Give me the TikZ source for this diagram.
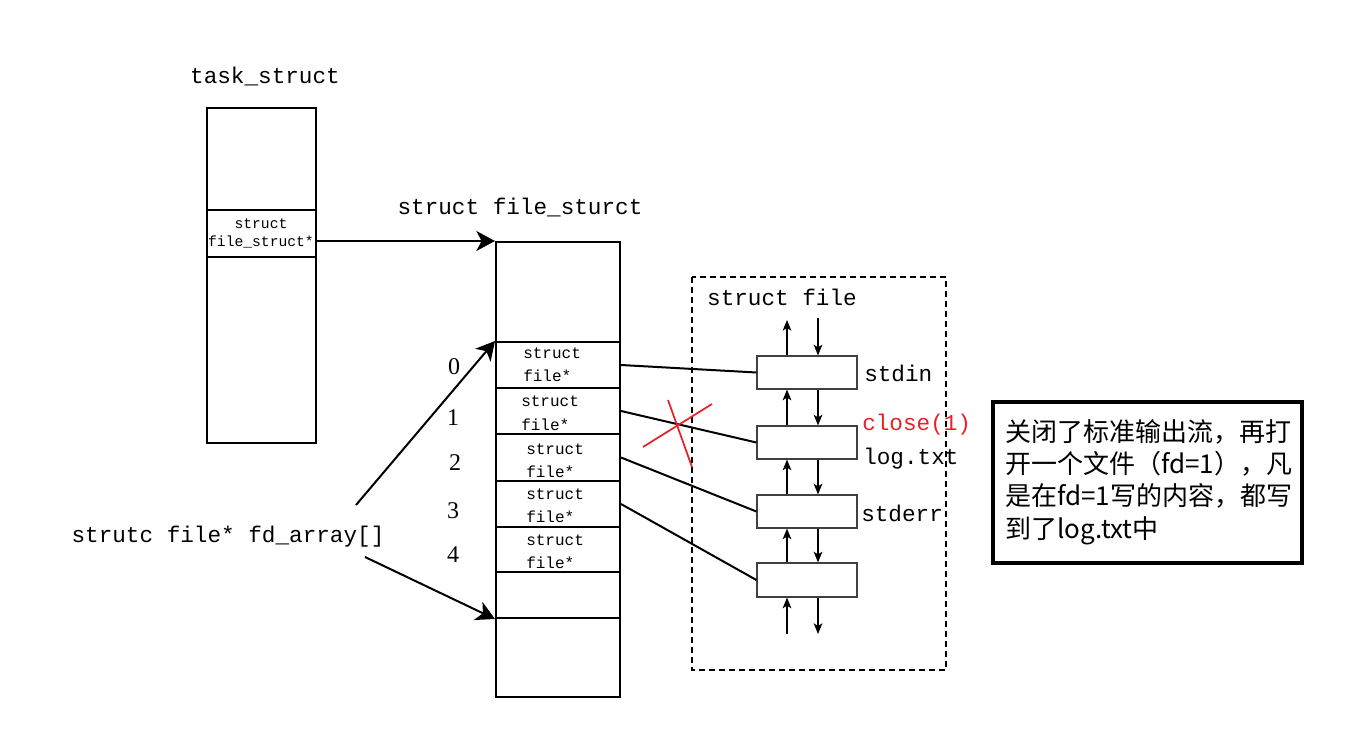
\documentclass[tikz,border=0pt]{standalone}
\usepackage{fontspec}
\setmainfont{Liberation Serif}
\newfontfamily\monof{Liberation Mono}
\newfontfamily\cjk{Noto Sans CJK SC}
\usetikzlibrary{fit,arrows.meta}
\definecolor{xred}{RGB}{232,32,40}
\begin{document}
\begin{tikzpicture}[x=0.75pt,y=-0.75pt,
  bigbox/.style={draw, line width=1.5pt, inner sep=0pt},
  fbox/.style={draw=black!75, line width=0.9pt, inner sep=0pt},
  lbl/.style={font=\monof\fontsize{17}{20}\selectfont, inner sep=0pt},
  smalllbl/.style={font=\monof\fontsize{11}{13}\selectfont, inner sep=0pt},
  rowlbl/.style={font=\monof\fontsize{12}{14}\selectfont, inner sep=0pt, anchor=west},
  numlbl/.style={font=\fontsize{18}{20}\selectfont, inner sep=0pt},
  bigarrow/.style={-{Stealth[length=14pt,width=15pt,inset=4pt]}, line width=1.5pt},
  sarrow/.style={-{Stealth[length=8pt,width=6.5pt,inset=2pt]}, line width=0.9pt},
  link/.style={line width=1.5pt},
]
\useasboundingbox (0,0) rectangle (1361,749);

% task_struct
\node[lbl] (tasklbl) at (265,77) {task\_struct};
\node[bigbox, fit={(207,108) (316,443)}] (task) {};
\node[bigbox, fit={(207,210) (316,257)}] (tfs) {};
\node[smalllbl] (tfs1) at (261,224) {struct};
\node[smalllbl] (tfs2) at (261,242) {file\_struct*};

% file_struct
\node[lbl] (fslbl) at (520,208) {struct file\_sturct};
\node[bigbox, fit={(496,242) (620,697)}] (fs) {};
\node[bigbox, fit={(496,342) (620,388)}] (row0) {};
\node[bigbox, fit={(496,388) (620,434)}] (row1) {};
\node[bigbox, fit={(496,434) (620,481)}] (row2) {};
\node[bigbox, fit={(496,481) (620,527)}] (row3) {};
\node[bigbox, fit={(496,527) (620,572)}] (row4) {};
\node[bigbox, fit={(496,572) (620,618)}] (row5) {};

\node[rowlbl] (r0a) at (523,353) {struct};
\node[rowlbl] (r0b) at (523,376) {file*};
\node[rowlbl] (r1a) at (521,401) {struct};
\node[rowlbl] (r1b) at (521,425) {file*};
\node[rowlbl] (r2a) at (526,449) {struct};
\node[rowlbl] (r2b) at (526,472) {file*};
\node[rowlbl] (r3a) at (526,494) {struct};
\node[rowlbl] (r3b) at (526,517) {file*};
\node[rowlbl] (r4a) at (526,540) {struct};
\node[rowlbl] (r4b) at (526,563) {file*};

\node[numlbl] (n0) at (454,367) {0};
\node[numlbl] (n1) at (453,418) {1};
\node[numlbl] (n2) at (455,463) {2};
\node[numlbl] (n3) at (453,511) {3};
\node[numlbl] (n4) at (453,555) {4};

\draw[bigarrow] (tfs.east |- fs.north west) -- (fs.north west);

% fd_array
\node[lbl] (fdlbl) at (228,537) {strutc file* fd\_array[]};
\coordinate (fdA) at (356,505);
\coordinate (fdB) at (365,557);
\draw[bigarrow] (fdA) -- (row0.north west);
\draw[bigarrow] (fdB) -- (row5.south west);

% struct file group
\draw[line width=1.3pt, dash pattern=on 4.5pt off 3pt] (692,277) rectangle (946,670);
\node[lbl] (sflbl) at (782,297) {struct file};
\node[fbox, fit={(757,356) (857,389)}] (sb1) {};
\node[fbox, fit={(757,426) (857,459)}] (sb2) {};
\node[fbox, fit={(757,495) (857,528)}] (sb3) {};
\node[fbox, fit={(757,563) (857,597)}] (sb4) {};

\coordinate (ux) at (787,0);
\coordinate (dx) at (818,0);
\coordinate (topU) at (787,320);
\coordinate (topD) at (818,318);
\coordinate (botU) at (787,634);
\coordinate (botD) at (818,634);
\draw[sarrow] (sb1.north -| ux) -- (topU);
\draw[sarrow] (topD) -- (sb1.north -| dx);
\draw[sarrow] (sb2.north -| ux) -- (sb1.south -| ux);
\draw[sarrow] (sb1.south -| dx) -- (sb2.north -| dx);
\draw[sarrow] (sb3.north -| ux) -- (sb2.south -| ux);
\draw[sarrow] (sb2.south -| dx) -- (sb3.north -| dx);
\draw[sarrow] (sb4.north -| ux) -- (sb3.south -| ux);
\draw[sarrow] (sb3.south -| dx) -- (sb4.north -| dx);
\draw[sarrow] (botU) -- (sb4.south -| ux);
\draw[sarrow] (sb4.south -| dx) -- (botD);

\draw[link] (row0.east) -- (sb1.west);
\draw[link] (row1.east) -- (sb2.west);
\draw[link] (row2.east) -- (sb3.west);
\draw[link] (row3.east) -- (sb4.west);

\node[lbl, anchor=west] (stdin) at (864,373) {stdin};
\node[lbl, anchor=west, text=xred] (close) at (862,425) {close(1)};
\node[lbl, anchor=west] (logtxt) at (863,459) {log.txt};
\node[lbl, anchor=west] (stderr) at (861,513) {stderr};

% red cross
\draw[xred, line width=1.3pt] (643,447) -- (712,404);
\draw[xred, line width=1.3pt] (668,400) -- (692,467);

% note
\node[draw, line width=2.3pt, fit={(993,402) (1302,563)}, inner sep=0pt] (note) {};
\node[anchor=north west, align=left, inner sep=0pt,
      font=\cjk\fontsize{19.5}{24.3}\selectfont] (notetxt) at (1005,419)
  {关闭了标准输出流，再打\\开一个文件（fd=1），凡\\是在fd=1写的内容，都写\\到了log.txt中};
\end{tikzpicture}
\end{document}
